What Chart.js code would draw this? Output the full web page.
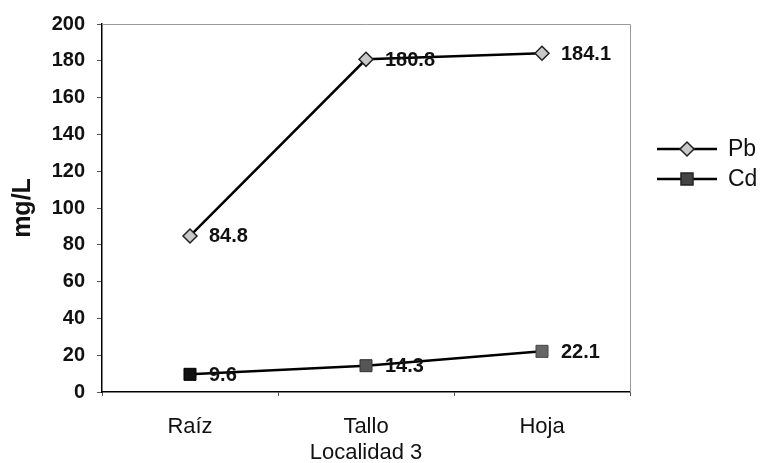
<!DOCTYPE html>
<html>
<head>
<meta charset="utf-8">
<script src="https://cdn.jsdelivr.net/npm/chart.js@4"></script>
<style>
  html, body { margin: 0; padding: 0; background: #fff; }
  #wrap { width: 761px; height: 463px; }
</style>
</head>
<body>
<div id="wrap"><canvas id="chart" width="761" height="463"></canvas></div>
<script>
const categories = ["Raíz", "Tallo", "Hoja"];
const pbValues = [84.8, 180.8, 184.1];
const cdValues = [9.6, 14.3, 22.1];
const yTicks = [0, 20, 40, 60, 80, 100, 120, 140, 160, 180, 200];

const FONT = "'Liberation Sans', Arial, sans-serif";

// value labels next to the points, grey frame top/right, and the legend
const extrasPlugin = {
  id: "extras",
  afterDatasetsDraw(chart) {
    const ctx = chart.ctx;
    const a = chart.chartArea;
    ctx.save();
    ctx.strokeStyle = "#9a9a9a";
    ctx.lineWidth = 1;
    ctx.beginPath();
    ctx.moveTo(a.left, a.top + 0.5);
    ctx.lineTo(a.right + 0.5, a.top + 0.5);
    ctx.lineTo(a.right + 0.5, a.bottom);
    ctx.stroke();

    ctx.fillStyle = "#111";
    ctx.font = "bold 20px " + FONT;
    ctx.textBaseline = "middle";
    chart.data.datasets.forEach((ds, i) => {
      chart.getDatasetMeta(i).data.forEach((pt, j) => {
        ctx.fillText(ds.data[j].toFixed(1), pt.x + 19, pt.y + 1);
      });
    });

    // legend
    const lx = 657;
    const items = [
      { label: "Pb", y: 149, ds: chart.data.datasets[0] },
      { label: "Cd", y: 179, ds: chart.data.datasets[1] }
    ];
    items.forEach((it) => {
      ctx.strokeStyle = "#000";
      ctx.lineWidth = 2.5;
      ctx.beginPath();
      ctx.moveTo(lx, it.y);
      ctx.lineTo(lx + 60, it.y);
      ctx.stroke();
      ctx.lineWidth = 1.5;
      ctx.beginPath();
      if (it.ds.pointStyle === "rectRot") {
        ctx.fillStyle = "#c8c8c8";
        ctx.strokeStyle = "#222";
        ctx.moveTo(lx + 30, it.y - 7);
        ctx.lineTo(lx + 37, it.y);
        ctx.lineTo(lx + 30, it.y + 7);
        ctx.lineTo(lx + 23, it.y);
        ctx.closePath();
      } else {
        ctx.fillStyle = "#444";
        ctx.strokeStyle = "#222";
        ctx.rect(lx + 24, it.y - 6, 12, 12);
      }
      ctx.fill();
      ctx.stroke();
      ctx.fillStyle = "#111";
      ctx.font = "23px " + FONT;
      ctx.fillText(it.label, lx + 71, it.y + 1);
    });
    ctx.restore();
  }
};

const ctx = document.getElementById("chart").getContext("2d");
new Chart(ctx, {
  type: "line",
  data: {
    labels: categories,
    datasets: [
      {
        label: "Pb",
        data: pbValues,
        borderColor: "#000",
        borderWidth: 2.5,
        pointStyle: "rectRot",
        pointRadius: 7,
        pointBackgroundColor: "#c8c8c8",
        pointBorderColor: "#222",
        pointBorderWidth: 1.5,
        tension: 0
      },
      {
        label: "Cd",
        data: cdValues,
        borderColor: "#000",
        borderWidth: 2.5,
        pointStyle: "rect",
        pointRadius: 8.5,
        pointBackgroundColor: ["#111", "#555", "#666"],
        pointBorderColor: ["#000", "#333", "#444"],
        pointBorderWidth: 1,
        tension: 0
      }
    ]
  },
  options: {
    responsive: false,
    animation: false,
    layout: { padding: { top: 24, right: 131, bottom: 0, left: 8 } },
    plugins: {
      legend: { display: false },
      tooltip: { enabled: false }
    },
    scales: {
      x: {
        offset: true,
        afterFit: (scale) => { scale.height = 71; },
        grid: { display: true, drawOnChartArea: false, tickLength: 4, color: "#555", offset: true },
        border: { color: "#000", width: 1.5 },
        ticks: { color: "#111", font: { family: FONT, size: 22 }, padding: 18 },
        title: {
          display: true,
          text: "Localidad 3",
          color: "#111",
          font: { family: FONT, size: 22 },
          padding: { top: 0, bottom: -3 }
        }
      },
      y: {
        min: 0,
        max: 200,
        afterBuildTicks: (axis) => { axis.ticks = yTicks.map((v) => ({ value: v })); },
        afterFit: (scale) => { scale.width = 94; },
        grid: { display: true, drawOnChartArea: false, tickLength: 5, color: "#555" },
        border: { color: "#000", width: 1.5 },
        ticks: { color: "#111", font: { family: FONT, size: 20, weight: "bold" }, padding: 12 },
        title: {
          display: true,
          text: "mg/L",
          color: "#111",
          font: { family: FONT, size: 25, weight: "bold" },
          padding: 0
        }
      }
    }
  },
  plugins: [extrasPlugin]
});
</script>
</body>
</html>
